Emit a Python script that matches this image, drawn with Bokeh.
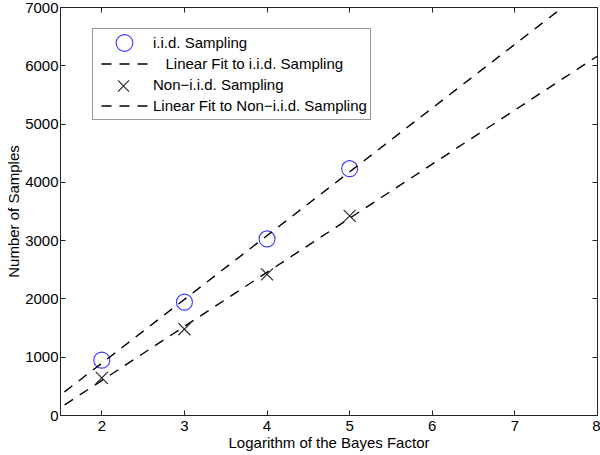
import numpy as np
from bokeh.plotting import figure
from bokeh.models import Range1d, LinearAxis, Legend, LegendItem, FixedTicker
from bokeh.embed import file_html
from bokeh.resources import INLINE

# data
log_bf = [2, 3, 4, 5]
iid_samples = [950, 1945, 3030, 4235]
noniid_samples = [645, 1480, 2420, 3425]
x_ticks = [2, 3, 4, 5, 6, 7, 8]
y_ticks = [0, 1000, 2000, 3000, 4000, 5000, 6000, 7000]
x_range = (1.5, 8)
y_range = (0, 7000)

# linear fits of the two series
iid_fit = np.polyfit(log_bf, iid_samples, 1)
noniid_fit = np.polyfit(log_bf, noniid_samples, 1)
fit_x = [x_range[0], x_range[1]]
iid_fit_y = list(np.polyval(iid_fit, fit_x))
noniid_fit_y = list(np.polyval(noniid_fit, fit_x))

FONT = "Liberation Sans"
FS = "15px"
AX = "#222222"
DASH = "10 8"

p = figure(width=600, height=455, output_backend="svg", toolbar_location=None,
           x_range=Range1d(*x_range), y_range=Range1d(*y_range),
           min_border_left=60, min_border_right=3, min_border_top=7, min_border_bottom=40)
p.grid.visible = False
p.outline_line_color = AX
p.background_fill_color = "white"
p.border_fill_color = "white"

for ax in (p.xaxis[0], p.yaxis[0]):
    ax.major_tick_in = 5
    ax.major_tick_out = 0
    ax.minor_tick_line_color = None
    ax.axis_line_color = AX
    ax.major_tick_line_color = AX
    ax.major_label_text_font = FONT
    ax.major_label_text_font_size = FS
    ax.major_label_text_color = "black"
    ax.axis_label_text_font = FONT
    ax.axis_label_text_font_size = FS
    ax.axis_label_text_font_style = "normal"
    ax.axis_label_text_color = "black"

p.xaxis[0].ticker = FixedTicker(ticks=x_ticks)
p.yaxis[0].ticker = FixedTicker(ticks=y_ticks)
p.xaxis[0].axis_label = "Logarithm of the Bayes Factor"
p.yaxis[0].axis_label = "Number of Samples"
p.xaxis[0].major_label_standoff = 5
p.xaxis[0].axis_label_standoff = 0
p.yaxis[0].major_label_standoff = 2
p.yaxis[0].axis_label_standoff = 0

top = LinearAxis(ticker=FixedTicker(ticks=x_ticks), major_label_text_font_size="0px",
                 major_tick_in=5, major_tick_out=0, minor_tick_line_color=None,
                 axis_line_color=AX, major_tick_line_color=AX,
                 major_label_standoff=0)
right = LinearAxis(ticker=FixedTicker(ticks=y_ticks), major_label_text_font_size="0px",
                   major_tick_in=5, major_tick_out=0, minor_tick_line_color=None,
                   axis_line_color=AX, major_tick_line_color=AX,
                   major_label_standoff=0)
top.major_label_overrides = {t: "" for t in x_ticks}
right.major_label_overrides = {t: "" for t in y_ticks}
p.add_layout(top, "above")
p.add_layout(right, "right")

r_iid = p.ellipse(log_bf, iid_samples, width=16, height=16, width_units="screen",
                  height_units="screen", fill_color=None, line_color="#3a3aff",
                  line_width=1.1)
r_iid_fit = p.line(fit_x, iid_fit_y, line_color="black", line_dash=DASH,
                   line_dash_offset=13, line_width=1.4)
r_non = p.scatter(log_bf, noniid_samples, marker="x", size=17, line_color="#222222",
                  line_width=1.1)
r_non_key = p.scatter(log_bf, noniid_samples, marker="x", size=17, line_alpha=0)
r_non_fit = p.line(fit_x, noniid_fit_y, line_color="black", line_dash=DASH,
                   line_dash_offset=13, line_width=1.4)

LEG_X, LEG_Y = 32, 295
legend = Legend(items=[
    LegendItem(label="i.i.d. Sampling", renderers=[r_iid]),
    LegendItem(label="\u00a0\u00a0\u00a0Linear Fit to i.i.d. Sampling", renderers=[r_iid_fit]),
    LegendItem(label="Non\u2212i.i.d. Sampling", renderers=[r_non_key]),
    LegendItem(label="Linear Fit to Non\u2212i.i.d. Sampling", renderers=[r_non_fit]),
], location=(LEG_X, LEG_Y))
legend.label_text_font = FONT
legend.label_text_font_size = FS
legend.label_text_color = "black"
legend.glyph_width = 56
legend.glyph_height = 21
legend.label_height = 21
legend.label_standoff = 1
legend.spacing = 0
legend.padding = 3
legend.margin = 0
legend.border_line_color = "#333333"
legend.border_line_width = 1
legend.background_fill_alpha = 1
p.add_layout(legend, "center")

# larger cross key drawn on top of the third legend row
key = Legend(items=[LegendItem(label="\u00a0", renderers=[r_non])],
             location=(LEG_X + 3, LEG_Y + 15))
key.glyph_width = 56
key.glyph_height = 39
key.label_height = 39
key.label_standoff = 0
key.label_text_font_size = "2px"
key.padding = 0
key.spacing = 0
key.margin = 0
key.border_line_color = None
key.background_fill_alpha = 0
p.add_layout(key, "center")

open("out.html", "w").write(file_html(p, INLINE))
